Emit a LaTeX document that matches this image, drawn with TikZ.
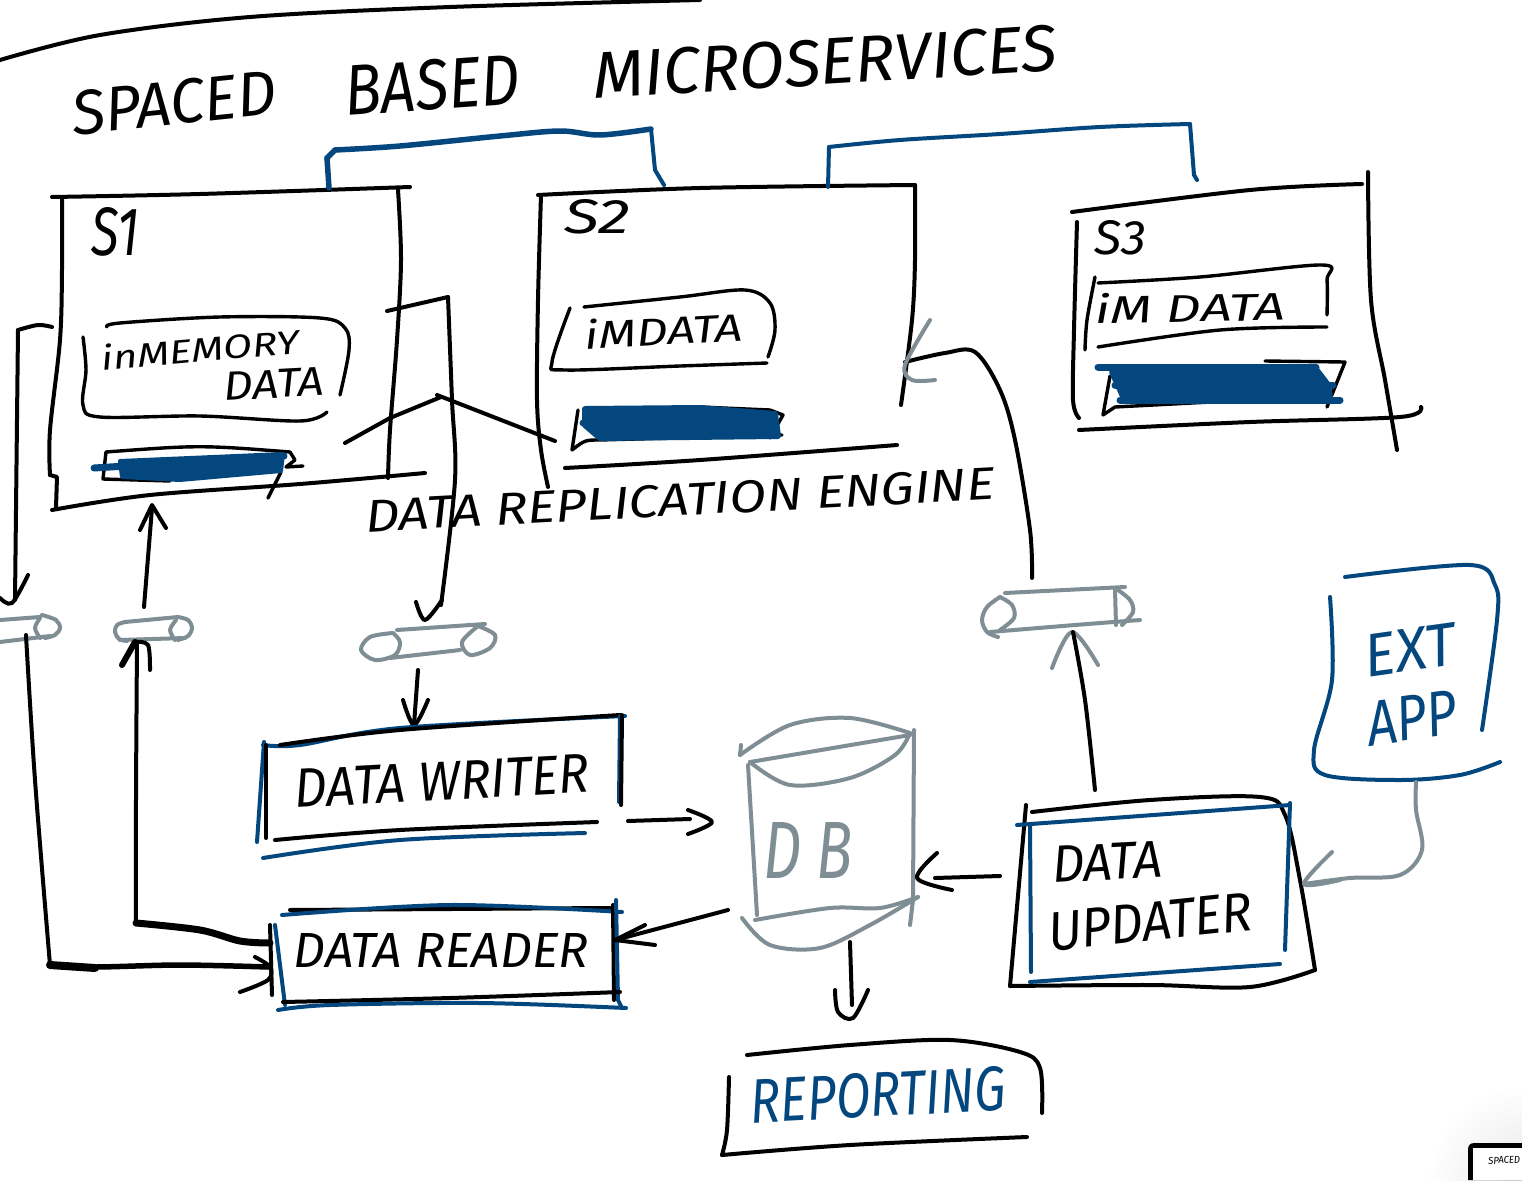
\documentclass[tikz,border=0pt]{standalone}
\usepackage{graphicx}
\usepackage{fontspec}
\setmainfont{Fira Sans}
\definecolor{inkblue}{HTML}{04477F}
\definecolor{inkgray}{HTML}{7F8E94}
\newcommand{\hw}[3]{\resizebox{#1pt}{#2pt}{\fontsize{40}{48}\selectfont\itshape #3}}
\newcommand{\hs}[2][]{\draw[ink,#1] plot[smooth,tension=.55] coordinates {#2};}
\tikzset{
  ink/.style={draw=black,line width=4pt,line cap=round,line join=round},
  thin ink/.style={line width=3.4pt},
  heavy/.style={line width=7pt},
  bl/.style={draw=inkblue},
  gy/.style={draw=inkgray},
  label/.style={inner sep=0pt,text=black},
  bluelabel/.style={inner sep=0pt,text=inkblue},
  graylabel/.style={inner sep=0pt,text=inkgray},
  scrib/.style={fill=inkblue,draw=inkblue,line width=6pt,line join=round,line cap=round},
}
\begin{document}
\begin{tikzpicture}[x=1pt,y=-1pt]
\useasboundingbox (0,0) rectangle (1522,1180);
\clip (0,0) rectangle (1522,1180);
\fill[white] (0,0) rectangle (1522,1180);
\shade[inner color=black!9,outer color=white] (1522,1180) circle (95);

% connector end points
\coordinate (s1top) at (329,188); \coordinate (s2topa) at (664,185);
\coordinate (s2topb) at (828,187); \coordinate (s3top) at (1197,180);
\coordinate (s1left) at (52,327); \coordinate (pipeAin) at (15,600);
\coordinate (pipeAout) at (26,635); \coordinate (readerL) at (268,967);
\coordinate (pipeBup) at (144,607); \coordinate (s1bot) at (152,508);
\coordinate (readerLt) at (270,943); \coordinate (pipeBdn) at (137,642);
\coordinate (s1right) at (387,311); \coordinate (pipeCin) at (441,605);
\coordinate (pipeCout) at (418,670); \coordinate (writerT) at (414,725);
\coordinate (writerR) at (628,821); \coordinate (dbW) at (710,820);
\coordinate (dbR) at (728,910); \coordinate (readerR) at (615,940);
\coordinate (dbB) at (850,942); \coordinate (repT) at (853,1018);
\coordinate (updL) at (1000,876); \coordinate (dbE) at (917,878);
\coordinate (updT) at (1095,790); \coordinate (pipeDb) at (1073,632);
\coordinate (pipeDt) at (1032,578); \coordinate (s2R) at (905,362);
\coordinate (extB) at (1416,782); \coordinate (updR) at (1304,884);
\coordinate (replA) at (345,443); \coordinate (replM) at (441,397);
\coordinate (replB) at (555,441);

% top stroke
\hs[line width=4pt]{(0,60) (100,35) (250,17) (450,7) (700,0)}

% title
\node[label,rotate=6] (tspaced) at (174,103) {\hw{205}{44}{SPACED}};
\node[label,rotate=4] (tbased) at (432,85) {\hw{175}{50}{BASED}};
\node[label,rotate=3.5] (tmicro) at (825,62) {\hw{465}{46}{MICROSERVICES}};

% S1
\hs{(52,197) (200,194) (410,187)}
\hs{(62,197) (62,270) (60,340) (50,430) (50,475)}
\draw[ink] (50,475) -- (57,477) -- (56,508);
\hs{(52,510) (150,495) (300,484) (425,473)}
\hs{(398,190) (401,260) (397,340) (390,430) (388,478)}
\node[label] (s1) at (115,232) {\hw{48}{48}{S1}};
\hs[thin ink]{(107,327) (120,323) (220,317) (320,318) (345,328) (349,350) (340,395)}
\hs[thin ink]{(83,337) (86,370) (83,405) (100,417) (200,416) (300,421) (327,412)}
\node[label,rotate=5] (inmem) at (200,349) {\hw{198}{26}{inMEMORY}};
\node[label,rotate=3] (d1) at (274,384) {\hw{100}{28}{DATA}};
\draw[ink,thin ink] (170,481) -- (103,479) -- (106,452) .. controls (200,445) .. (290,452);
\draw[ink,thin ink] (290,452) -- (295,460) -- (286,467) -- (303,466);
\draw[ink,thin ink] (281,472) -- (268,498);
\draw[scrib,line width=4pt] (120,461) -- (283,454) -- (281,471) -- (180,480) -- (122,477) -- cycle;
\draw[ink,bl,line width=7pt] (94,468) -- (284,456);

% S2
\hs{(538,195) (700,188) (915,185)}
\hs{(541,195) (538,300) (537,400) (541,450) (548,487)}
\hs{(915,185) (915,260) (912,320) (901,405)}
\hs{(565,468) (700,460) (897,445)}
\node[label] (s2) at (597,217) {\hw{66}{34}{S2}};
\hs[thin ink]{(584,307) (680,297) (745,290) (770,303) (775,330) (768,357)}
\hs[thin ink]{(570,308) (552,362) (565,370) (680,366) (767,363)}
\node[label,rotate=3] (imd2) at (664,330) {\hw{158}{30}{iMDATA}};
\draw[ink,thin ink] (578,410) -- (572,450) .. controls (585,440) .. (600,440) -- (782,435);
\draw[ink,thin ink] (700,407) -- (770,410) -- (783,415) -- (770,438);
\draw[scrib] (585,409) -- (700,408) -- (775,414) -- (778,436) -- (600,438) -- (585,425) -- cycle;
\draw[ink,bl,line width=7pt] (583,423) -- (610,425);

% S3
\hs{(1072,212) (1250,190) (1362,184)}
\hs{(1077,222) (1074,330) (1073,400) (1079,418)}
\hs{(1368,172) (1371,300) (1385,380) (1397,450)}
\hs{(1079,430) (1250,422) (1400,417) (1421,407)}
\node[label] (s3) at (1120,238) {\hw{52}{34}{S3}};
\hs[thin ink]{(1098,283) (1200,277) (1322,265) (1327,280) (1327,315)}
\hs[thin ink]{(1095,277) (1087,320) (1085,350)}
\hs[thin ink]{(1098,347) (1220,330) (1327,327)}
\node[label,rotate=1] (imd3) at (1190,307) {\hw{190}{30}{iM DATA}};
\draw[ink,thin ink] (1110,376) -- (1103,415) -- (1115,407) -- (1250,400);
\draw[ink,thin ink] (1265,361) -- (1345,362) -- (1327,407);
\draw[scrib] (1112,372) -- (1315,368) -- (1328,385) -- (1330,398) -- (1125,401) -- (1118,385) -- cycle;
\draw[ink,bl,line width=7pt] (1098,367) -- (1316,367);
\draw[ink,bl,line width=7pt] (1115,385) -- (1333,385);
\draw[ink,bl,line width=7pt] (1120,400) -- (1340,400);

% blue links between the services
\hs[bl,line width=5.5pt]{(s1top) (327,158)}
\draw[ink,bl,line width=5.5pt] (327,158) -- (335,150);
\hs[bl,line width=5.5pt]{(335,150) (400,146) (500,136) (560,131) (600,135) (651,129)}
\draw[ink,bl] (651,129) -- (655,170) -- (s2topa);
\draw[ink,bl] (s2topb) -- (829,147);
\hs[bl]{(829,147) (900,140) (1000,134) (1100,127) (1190,124)}
\draw[ink,bl] (1190,124) -- (1194,175) -- (s3top);

% replication strokes and label
\draw[ink] (replA) -- (390,418) -- (replM);
\draw[ink] (437,395) -- (replB);
\node[label,rotate=3] (repl) at (680,500) {\hw{630}{32}{DATA REPLICATION ENGINE}};

% pipes
\hs[gy]{(0,620) (40,617)} \hs[gy]{(42,615) (56,620) (60,628) (55,635) (45,638)} \hs[gy]{(0,642) (50,636)} \hs[gy]{(40,618) (35,628) (40,638)}
\hs[gy]{(125,622) (178,617)} \hs[gy]{(120,640) (185,638)} \hs[gy]{(125,622) (117,625) (115,632) (119,639) (127,641)} \hs[gy]{(178,617) (188,620) (192,628) (188,636) (178,640)} \hs[gy]{(176,620) (170,630) (175,640)}
\hs[gy]{(397,630) (485,624)} \hs[gy]{(390,658) (460,650)} \hs[gy]{(393,633) (370,637) (361,650) (375,660) (395,655) (400,642) (393,633)} \hs[gy]{(478,626) (495,635) (490,648) (470,655) (462,642) (478,626)}
\hs[gy]{(1005,593) (1125,587)} \hs[gy]{(990,632) (1075,625) (1140,620)} \hs[gy]{(1000,597) (987,607) (982,620) (987,632) (998,637)} \hs[gy]{(1000,597) (1012,605) (1014,618) (1000,630)} \hs[gy]{(1118,590) (1130,600) (1133,612) (1122,625)} \draw[ink,gy] (1115,590) -- (1116,625);
\hs[gy]{(1052,668) (1072,632) (1098,665)}

% far-left path
\hs{(s1left) (38,325) (18,330)}
\draw[ink] (18,330) -- (pipeAin);
\hs{(0,598) (12,603) (28,575)}
\hs{(pipeAout) (35,780) (50,965)}
\hs[line width=5.5pt]{(50,965) (95,967) (180,965) (readerL)}
\draw[ink,line width=8pt] (50,965) -- (95,968);
\hs{(255,957) (270,967) (268,980) (240,992)}

% S1 read path
\draw[ink] (pipeBup) -- (s1bot);
\draw[ink] (140,530) -- (152,505) -- (166,528);
\hs{(136,923) (136,800) (pipeBdn)}
\draw[ink,line width=6pt] (122,665) -- (135,642);
\hs{(135,642) (148,645) (150,670)}
\hs[heavy]{(136,923) (200,930) (240,941) (readerLt)}

% S1 write path
\draw[ink] (s1right) -- (448,297);
\hs{(448,297) (452,400) (455,480) (pipeCin)}
\hs{(416,602) (425,620) (442,600)}
\draw[ink] (pipeCout) -- (writerT);
\hs{(403,700) (414,725) (428,700)}

% Data writer
\hs[bl]{(263,745) (300,745) (400,728) (625,716)}
\hs{(280,745) (400,730) (620,715)}
\draw[ink,bl] (264,742) -- (257,842);
\draw[ink] (266,745) -- (266,838);
\draw[ink,bl] (620,716) -- (619,802);
\draw[ink] (622,715) -- (621,805);
\hs{(275,840) (400,830) (597,822)}
\hs[bl]{(263,858) (400,840) (585,833)}
\node[label,rotate=3] (writer) at (442,781) {\hw{295}{38}{DATA WRITER}};
\draw[ink] (writerR) -- (690,819);
\hs{(688,810) (712,822) (688,834)}

% Data reader
\hs{(290,910) (610,908)}
\hs[bl]{(282,915) (450,905) (622,912)}
\draw[ink] (270,925) -- (272,995);
\draw[ink,bl] (275,925) -- (285,1005);
\draw[ink] (613,905) -- (614,1000);
\draw[ink,bl] (616,900) -- (618,1000) -- (622,1008);
\hs{(283,1002) (450,998) (620,992)}
\hs[bl]{(278,1010) (330,1005) (480,1003) (626,1008)}
\node[label] (reader) at (441,950) {\hw{295}{34}{DATA READER}};
\draw[ink] (dbR) -- (readerR);
\draw[ink] (645,925) -- (615,940) -- (655,945);

% DB
\hs[gy]{(740,755) (790,725) (850,718) (910,733)}
\hs[gy]{(750,762) (910,735)}
\hs[gy]{(750,762) (790,785) (850,778) (895,755) (910,733)}
\hs[gy]{(741,745) (740,755)}
\draw[ink,gy] (748,765) -- (757,915);
\draw[ink,gy] (914,730) -- (913,900) -- (910,925);
\hs[gy]{(755,920) (830,908) (880,908) (918,897)}
\hs[gy]{(742,918) (770,945) (820,948) (870,925) (918,897)}
\node[graylabel] (db) at (808,850) {\hw{90}{56}{D B}};
\draw[ink] (dbB) -- (852,1005);
\hs{(835,990) (838,1012) (repT) (868,990)}

% Reporting
\hs{(747,1055) (850,1045) (950,1040) (1020,1052) (1040,1068) (1042,1113)}
\hs{(729,1077) (727,1130) (722,1155)}
\hs{(722,1155) (850,1145) (1027,1137)}
\node[bluelabel,rotate=3] (reporting) at (878,1095) {\hw{255}{44}{REPORTING}};

% Data updater
\draw[ink] (1026,805) -- (1010,986);
\hs{(1032,812) (1150,800) (1260,797) (1285,815) (1300,880) (1315,970)}
\hs{(1010,986) (1150,985) (1250,987) (1315,970)}
\draw[ink,bl] (1017,825) -- (1290,805);
\draw[ink,bl] (1290,803) -- (1285,950);
\draw[ink,bl] (1030,825) -- (1031,972);
\draw[ink,bl] (1030,982) -- (1280,964);
\node[label,rotate=3] (udata) at (1107,862) {\hw{110}{36}{DATA}};
\node[label,rotate=6] (uupd) at (1150,922) {\hw{205}{38}{UPDATER}};
\draw[ink] (updL) -- (935,878);
\hs{(937,853) (dbE) (952,890)}
\hs{(updT) (1085,700) (pipeDb)}
\hs{(pipeDt) (1030,530) (1015,440) (1000,390) (975,352) (945,353) (s2R)}
\hs[gy]{(930,320) (905,365) (912,380) (935,380)}

% Ext app
\hs[bl]{(1345,577) (1470,565) (1495,585) (1497,620) (1482,730)}
\hs[bl]{(1330,597) (1332,680) (1314,750) (1325,775) (1400,780) (1460,775) (1500,762)}
\node[bluelabel,rotate=8] (ext) at (1410,650) {\hw{92}{42}{EXT}};
\node[bluelabel,rotate=8] (app) at (1412,718) {\hw{90}{44}{APP}};
\hs[gy]{(extB) (1416,810) (1422,850) (1400,875) (1350,878) (updR)}
\hs[gy]{(1332,852) (updR) (1340,880)}

% thumbnail in the corner
\fill[black] (1468,1150) .. controls (1468,1145) and (1470,1143) .. (1475,1143) -- (1522,1143) -- (1522,1180) -- (1468,1180) -- cycle;
\fill[white] (1473,1148) -- (1522,1148) -- (1522,1180) -- (1473,1180) -- cycle;
\node[label,rotate=3,anchor=west] (thumb) at (1488,1161) {\hw{32}{7}{SPACED}};
\end{tikzpicture}
\end{document}
